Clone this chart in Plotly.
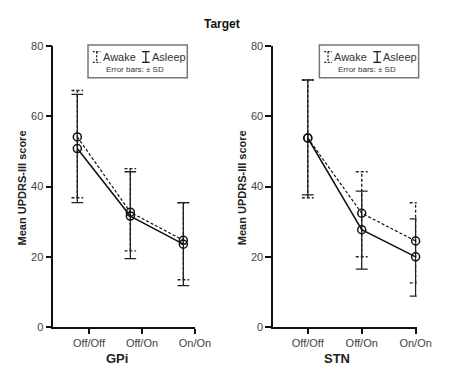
import plotly.graph_objects as go

# final picture is 460x374; page body has an 8px margin, so the figure is sized to fit inside
PAGE_W, PAGE_H = 460, 374
OX, OY = 8, 8
W, H = PAGE_W - 2 * OX, PAGE_H - 2 * OY

conditions = ["Off/Off", "Off/On", "On/On"]
y_ticks = [0, 20, 40, 60, 80]

# GPi
gpi_awake_mean = [54.1, 32.7, 24.7]
gpi_awake_upper = [67.3, 45.1, 35.4]
gpi_awake_lower = [36.8, 21.7, 13.5]
gpi_asleep_mean = [50.8, 31.6, 23.6]
gpi_asleep_upper = [66.2, 44.2, 35.4]
gpi_asleep_lower = [35.4, 19.5, 11.8]

# STN
stn_awake_mean = [53.8, 32.4, 24.5]
stn_awake_upper = [70.3, 44.2, 35.4]
stn_awake_lower = [36.8, 20.0, 12.6]
stn_asleep_mean = [53.8, 27.7, 20.0]
stn_asleep_upper = [70.3, 38.7, 30.8]
stn_asleep_lower = [37.6, 16.5, 8.8]

FONT = "Liberation Sans, Arial, sans-serif"

def px(x):
    return (x - OX) / W

def py(y):
    return 1 - (y - OY) / H

fig = go.Figure()

def errbar(xs, upper, lower, hw):
    ex, ey = [], []
    for x, u, l in zip(xs, upper, lower):
        ex += [x, x, None, x - hw, x + hw, None, x - hw, x + hw, None]
        ey += [l, u, None, u, u, None, l, l, None]
    return ex, ey

panels = [
    dict(xa="x", ya="y", offset=-0.22,
         awake=(gpi_awake_mean, gpi_awake_upper, gpi_awake_lower),
         asleep=(gpi_asleep_mean, gpi_asleep_upper, gpi_asleep_lower)),
    dict(xa="x2", ya="y2", offset=0.0,
         awake=(stn_awake_mean, stn_awake_upper, stn_awake_lower),
         asleep=(stn_asleep_mean, stn_asleep_upper, stn_asleep_lower)),
]

for p in panels:
    xs = [i + 1 + p["offset"] for i in range(len(conditions))]
    ex, ey = errbar(xs, p["awake"][1], p["awake"][2], 0.11)
    fig.add_trace(go.Scatter(x=ex, y=ey, mode="lines", xaxis=p["xa"], yaxis=p["ya"],
                             line=dict(color="#222", width=1.4, dash="3px,2px"),
                             showlegend=False, hoverinfo="skip", cliponaxis=False))
    ex, ey = errbar(xs, p["asleep"][1], p["asleep"][2], 0.11)
    fig.add_trace(go.Scatter(x=ex, y=ey, mode="lines", xaxis=p["xa"], yaxis=p["ya"],
                             line=dict(color="#222", width=1.3),
                             showlegend=False, hoverinfo="skip", cliponaxis=False))
    fig.add_trace(go.Scatter(x=xs, y=p["awake"][0], mode="lines+markers",
                             xaxis=p["xa"], yaxis=p["ya"],
                             line=dict(color="#111", width=1.2, dash="3px,2px"),
                             marker=dict(symbol="circle-open", size=8, color="#111",
                                         line=dict(width=1.5)),
                             showlegend=False, cliponaxis=False))
    fig.add_trace(go.Scatter(x=xs, y=p["asleep"][0], mode="lines+markers",
                             xaxis=p["xa"], yaxis=p["ya"],
                             line=dict(color="#111", width=1.5),
                             marker=dict(symbol="circle-open", size=8, color="#111",
                                         line=dict(width=1.5)),
                             showlegend=False, cliponaxis=False))

ydom = [py(332), py(41)]
xcommon = dict(tickvals=[1, 2, 3], ticktext=conditions, showline=True, linecolor="#111",
               linewidth=1.5, ticks="outside", ticklen=5, tickwidth=1.5, tickcolor="#111",
               showgrid=False, zeroline=False,
               tickfont=dict(family=FONT, size=11, color="#444"))
ycommon = dict(range=[0, 80], tickvals=y_ticks, showline=True, linecolor="#111",
               linewidth=1.5, ticks="outside", ticklen=6, tickwidth=1.5, tickcolor="#111",
               showgrid=False, zeroline=False, domain=ydom,
               tickfont=dict(family=FONT, size=11, color="#444"))

fig.update_layout(
    width=W, height=H, margin=dict(l=0, r=0, t=0, b=0),
    plot_bgcolor="white", paper_bgcolor="white",
    xaxis=dict(xcommon, domain=[px(55), px(202)], range=[0.327, 3.0], anchor="y"),
    yaxis=dict(ycommon, anchor="x"),
    xaxis2=dict(xcommon, domain=[px(283), px(432)], range=[0.357, 3.02], anchor="y2"),
    yaxis2=dict(ycommon, anchor="x2"),
    showlegend=False,
)

def note(text, x, y, size, color="#222", xanchor="center", **kw):
    return dict(text=text, x=px(x), y=py(y), xref="paper", yref="paper",
                xanchor=xanchor, yanchor="middle", showarrow=False,
                font=dict(family=FONT, size=size, color=color), **kw)

ann = [note("<b>Target</b>", 230, 18, 12, "#111")]
for cx, lab in [(121, "GPi"), (349, "STN")]:
    ann.append(note(f"<b>{lab}</b>", cx, 364, 13))
for cx in [23, 251]:
    ann.append(note("<b>Mean UPDRS-III score</b>", cx, 188, 11, textangle=-90))

shapes = []
def seg(x0, y0, x1, y1, dash=None):
    line = dict(color="#222", width=1.3)
    if dash:
        line["dash"] = dash
    return dict(type="line", xref="paper", yref="paper", x0=px(x0), x1=px(x1),
                y0=py(y0), y1=py(y1), line=line)

for dx in [0, 240]:
    x0, x1, y0, y1 = 91 + dx, 194 + dx, 40, 74
    shapes.append(dict(type="rect", xref="paper", yref="paper", x0=px(x0), x1=px(x1),
                       y0=py(y1), y1=py(y0), line=dict(color="#777", width=1.5)))
    ix = 100 + dx
    shapes.append(seg(ix, 47, ix, 58, "2px,1.5px"))
    for yy in (47, 58):
        shapes.append(seg(ix - 4, yy, ix + 4, yy, "2px,1.5px"))
    ix = 151 + dx
    shapes.append(seg(ix, 47, ix, 58))
    for yy in (47, 58):
        shapes.append(seg(ix - 4, yy, ix + 4, yy))
    ann.append(note("Awake", 104 + dx, 53, 11, "#333", xanchor="left"))
    ann.append(note("Asleep", 155 + dx, 53, 11, "#333", xanchor="left"))
    ann.append(note("Error bars: ± SD", 140 + dx, 65, 8, "#333"))

fig.update_layout(annotations=ann, shapes=shapes)
fig.write_html("out.html", config={"displayModeBar": False})
